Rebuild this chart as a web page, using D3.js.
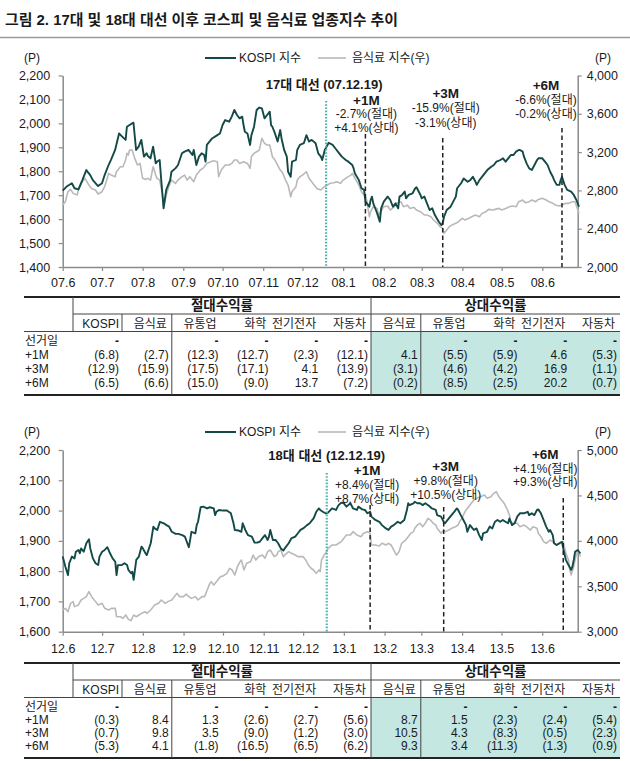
<!DOCTYPE html>
<html><head><meta charset="utf-8">
<script src="https://cdn.jsdelivr.net/npm/d3@7"></script>
<style>
body{margin:0;background:#fff;}
svg{display:block;font-family:"Liberation Sans","Noto Sans CJK KR",sans-serif;}
</style></head><body>
<svg id="c" width="630" height="761"></svg>
<script>
// ---------------- DATA ----------------
const titleText = "그림 2. 17대 및 18대 대선 이후 코스피 및 음식료 업종지수 추이";
const legendLabels = ["KOSPI 지수", "음식료 지수(우)"];

// chart 1 (2007.6 ~ 2008.6): [day offset from 2007-06-01, value]
const xLabels07 = ["07.6","07.7","07.8","07.9","07.10","07.11","07.12","08.1","08.2","08.3","08.4","08.5","08.6"];
const leftTicks07 = [1400,1500,1600,1700,1800,1900,2000,2100,2200];
const rightTicks07 = [2000,2400,2800,3200,3600,4000];
const kospi07 = [[0,1719],[3,1736],[7,1750],[9,1729],[12,1724],[15,1763],[18,1805],[21,1784],[23,1763],[27,1738],[30,1750],[32,1784],[35,1826],[37,1850],[40,1889],[43,1958],[45,1947],[48,1931],[49,1986],[51,1993],[54,2003],[56,1889],[58,1903],[60,1931],[62,1861],[64,1875],[65,1864],[67,1854],[69,1903],[71,1833],[72,1840],[74,1847],[75,1777],[77,1645],[79,1722],[82,1763],[83,1798],[86,1812],[88,1826],[91,1875],[93,1882],[96,1889],[99,1868],[100,1889],[102,1826],[104,1861],[106,1875],[108,1868],[109,1840],[110,1910],[114,1937],[118,1951],[120,1958],[122,1993],[124,2014],[127,2007],[129,2028],[131,2056],[133,2035],[135,2021],[137,2028],[138,1993],[139,1965],[141,1958],[143,1910],[144,1951],[146,1986],[148,2056],[150,2066],[152,2063],[154,2021],[156,2035],[158,2049],[159,1993],[160,1986],[162,1958],[164,1924],[166,1972],[167,1937],[169,1889],[171,1861],[172,1798],[174,1777],[175,1840],[178,1847],[179,1889],[181,1910],[184,1917],[186,1951],[188,1924],[190,1931],[193,1917],[195,1875],[197,1861],[198,1847],[199,1868],[200,1889],[203,1919],[206,1910],[208,1896],[211,1875],[213,1861],[216,1847],[218,1840],[221,1826],[222,1812],[223,1791],[226,1763],[228,1729],[230,1722],[231,1673],[234,1652],[235,1680],[236,1694],[237,1666],[239,1638],[240,1624],[242,1589],[243,1645],[245,1673],[248,1694],[250,1680],[252,1652],[254,1666],[256,1645],[257,1694],[259,1701],[261,1715],[262,1687],[264,1701],[267,1708],[269,1729],[270,1733],[273,1701],[274,1687],[276,1694],[278,1666],[280,1638],[282,1645],[284,1617],[287,1589],[289,1575],[290,1582],[291,1610],[293,1638],[296,1652],[298,1673],[300,1694],[301,1729],[304,1750],[306,1770],[309,1756],[311,1763],[313,1777],[315,1756],[316,1743],[318,1763],[321,1784],[324,1805],[327,1819],[329,1826],[331,1840],[334,1847],[336,1854],[338,1840],[340,1854],[342,1868],[344,1868],[346,1882],[348,1889],[349,1889],[351,1882],[352,1861],[354,1833],[356,1812],[358,1805],[360,1826],[362,1847],[363,1854],[366,1854],[368,1840],[370,1826],[372,1798],[374,1777],[375,1763],[377,1743],[379,1743],[380,1763],[381,1777],[383,1743],[385,1722],[388,1715],[390,1701],[392,1680],[394,1652]];
const food07 = [[0,2647],[2,2682],[4,2786],[6,2811],[8,2769],[11,2752],[12,2804],[15,2891],[17,2926],[20,2856],[22,2821],[25,2804],[27,2762],[30,2786],[32,2839],[34,2926],[35,2978],[37,2960],[40,2943],[41,2995],[44,3047],[46,3047],[48,3117],[49,3187],[50,3169],[51,3221],[53,3221],[55,3134],[57,3065],[59,3082],[61,2926],[63,2915],[65,2926],[67,2908],[69,3047],[71,2960],[72,2926],[74,2908],[76,2769],[77,2630],[79,2752],[81,2839],[83,2908],[86,2873],[88,2908],[91,2943],[93,2960],[95,2908],[97,2943],[100,2891],[102,2960],[105,3013],[107,3030],[110,3082],[113,3100],[115,3110],[118,3100],[119,2943],[121,3013],[124,3065],[127,3065],[129,3082],[131,3117],[133,3117],[135,3082],[138,3100],[141,3082],[143,3030],[144,3152],[146,3187],[148,3204],[150,3221],[152,3343],[154,3291],[156,3274],[158,3274],[160,3152],[162,3117],[164,3065],[166,3013],[168,2978],[170,2908],[172,2856],[174,2734],[175,2786],[178,2839],[179,2908],[181,2943],[183,2960],[186,2995],[188,2926],[191,2873],[194,2821],[197,2804],[199,2832],[202,2856],[204,2874],[207,2880],[209,2891],[212,2874],[214,2908],[217,2936],[220,2960],[221,2978],[223,2926],[226,2856],[228,2786],[231,2734],[232,2700],[234,2525],[235,2578],[237,2630],[240,2612],[241,2543],[242,2560],[245,2630],[248,2637],[250,2595],[253,2630],[255,2665],[258,2682],[260,2630],[262,2637],[263,2647],[265,2612],[268,2623],[270,2595],[273,2578],[276,2543],[278,2543],[281,2525],[283,2491],[286,2456],[288,2421],[290,2404],[291,2352],[293,2386],[295,2421],[297,2438],[300,2456],[302,2473],[305,2508],[307,2491],[310,2508],[312,2525],[315,2543],[318,2525],[320,2560],[323,2578],[325,2602],[328,2595],[330,2602],[333,2612],[335,2595],[338,2612],[341,2630],[343,2637],[346,2630],[348,2682],[351,2700],[353,2672],[356,2682],[358,2700],[361,2682],[363,2706],[366,2717],[369,2700],[371,2682],[374,2665],[376,2647],[379,2637],[381,2647],[384,2665],[386,2665],[389,2682],[391,2682],[394,2560]];

// chart 2 (2012.6 ~ 2013.6): [day offset from 2012-06-01, value]
const xLabels12 = ["12.6","12.7","12.8","12.9","12.10","12.11","12.12","13.1","13.2","13.3","13.4","13.5","13.6"];
const leftTicks12 = [1600,1700,1800,1900,2000,2100,2200];
const rightTicks12 = [3000,3500,4000,4500,5000];
const kospi12 = [[0,1848],[2,1815],[4,1787],[5,1826],[7,1848],[9,1842],[10,1864],[12,1870],[13,1859],[14,1875],[16,1864],[18,1892],[20,1905],[21,1875],[23,1842],[25,1826],[27,1820],[28,1848],[30,1864],[32,1870],[34,1879],[36,1859],[38,1842],[40,1831],[41,1787],[42,1820],[45,1820],[47,1826],[49,1820],[50,1804],[52,1793],[53,1798],[54,1771],[56,1837],[58,1848],[60,1881],[61,1875],[63,1859],[64,1853],[67,1892],[68,1919],[69,1947],[70,1941],[72,1936],[74,1963],[77,1958],[79,1952],[81,1947],[83,1930],[86,1923],[88,1923],[91,1919],[93,1914],[96,1879],[97,1903],[98,1930],[101,1925],[102,1952],[103,1963],[105,2011],[107,2013],[110,2007],[112,2011],[115,2007],[116,1985],[117,1996],[119,2002],[122,2000],[125,2000],[128,1991],[130,1958],[131,1936],[134,1934],[136,1930],[137,1958],[139,1936],[141,1919],[144,1914],[146,1894],[148,1894],[150,1897],[153,1914],[154,1919],[156,1903],[157,1914],[158,1936],[160,1903],[162,1903],[164,1892],[166,1875],[168,1868],[169,1875],[172,1892],[174,1908],[177,1914],[179,1925],[181,1936],[183,1941],[186,1952],[188,1958],[190,1969],[191,1974],[193,1996],[195,2007],[196,2002],[198,1996],[200,1991],[202,1993],[205,2007],[208,2002],[210,2018],[212,2026],[214,2024],[216,2013],[219,2024],[221,2007],[224,2002],[225,2013],[228,2004],[230,2002],[232,1991],[234,1996],[235,1980],[238,1969],[241,1963],[243,1952],[246,1941],[248,1936],[250,1947],[252,1952],[255,1963],[257,1958],[260,1969],[262,2002],[263,2024],[264,2018],[267,2024],[268,2029],[270,2024],[272,2024],[274,2018],[276,2024],[279,2015],[281,2007],[284,2002],[285,1985],[288,1980],[290,1963],[291,1958],[293,1969],[295,1980],[298,1996],[300,2007],[301,2002],[303,1985],[305,1969],[307,1952],[308,1930],[310,1952],[312,1941],[313,1936],[315,1941],[317,1919],[319,1903],[320,1925],[323,1930],[325,1947],[327,1941],[329,1963],[331,1969],[333,1963],[335,1969],[337,1963],[339,1958],[340,1974],[342,1952],[344,1958],[346,1980],[348,1991],[351,1991],[354,1996],[355,1985],[357,1991],[359,1985],[361,2002],[362,2004],[364,1991],[366,1969],[368,1947],[370,1930],[371,1936],[373,1919],[374,1892],[376,1886],[378,1892],[380,1897],[381,1875],[383,1837],[385,1820],[387,1804],[388,1815],[389,1837],[390,1864],[392,1870],[393,1864],[394,1859]];
const food12 = [[0,3239],[2,3257],[4,3220],[6,3312],[8,3331],[9,3276],[12,3294],[14,3349],[16,3367],[18,3386],[20,3441],[22,3386],[25,3331],[27,3294],[30,3312],[32,3257],[35,3239],[37,3257],[40,3257],[41,3165],[44,3165],[46,3147],[48,3184],[50,3136],[52,3122],[54,3184],[56,3165],[58,3184],[60,3202],[63,3220],[64,3202],[67,3239],[69,3276],[70,3294],[73,3312],[75,3349],[78,3312],[80,3331],[83,3349],[86,3404],[87,3422],[89,3386],[92,3386],[94,3415],[96,3386],[98,3367],[101,3386],[103,3349],[106,3386],[108,3386],[110,3459],[112,3532],[113,3551],[115,3514],[117,3551],[120,3606],[122,3613],[125,3642],[127,3697],[129,3679],[131,3624],[133,3716],[135,3771],[136,3789],[138,3679],[140,3753],[143,3771],[145,3844],[147,3789],[149,3826],[152,3844],[154,3808],[156,3881],[158,3899],[161,3826],[163,3844],[164,3881],[166,3899],[168,3826],[169,3844],[172,3881],[174,3863],[177,3844],[179,3826],[181,3826],[183,3826],[185,3789],[187,3734],[189,3698],[191,3679],[193,3642],[195,3679],[196,3661],[197,3789],[199,3844],[201,3881],[202,3918],[205,3954],[208,3954],[210,3973],[212,3991],[214,4028],[216,4064],[219,4064],[221,4101],[224,4064],[227,4046],[229,4083],[232,4101],[234,4083],[235,3954],[238,3954],[241,3943],[243,3973],[246,3954],[248,3973],[250,3954],[252,3899],[254,3844],[256,3881],[258,3973],[261,4009],[263,4046],[265,4083],[267,4101],[268,4138],[270,4174],[272,4193],[274,4156],[276,4193],[278,4248],[280,4229],[282,4193],[284,4174],[285,4138],[288,4083],[290,4119],[291,4101],[294,4119],[296,4138],[299,4156],[301,4174],[302,4211],[304,4248],[305,4285],[307,4340],[309,4376],[311,4413],[313,4450],[315,4468],[318,4486],[321,4505],[323,4468],[326,4486],[328,4523],[330,4541],[332,4486],[334,4450],[336,4413],[338,4358],[340,4285],[341,4211],[343,4193],[346,4193],[348,4156],[351,4174],[353,4156],[356,4119],[358,4156],[361,4138],[362,4083],[364,4046],[366,3991],[368,3973],[371,4009],[373,3991],[374,3973],[376,3954],[379,3973],[381,3991],[383,3863],[385,3789],[386,3679],[387,3624],[389,3716],[390,3789],[391,3863],[393,3881],[394,3826]];

// event markers: dates and annotation texts
const events07 = ["2007-12-19","2008-01-18","2008-03-17","2008-06-16"];
const eventTitle07 = "17대 대선 (07.12.19)";
const eventText07 = [["+1M","-2.7%(절대)","+4.1%(상대)"],["+3M","-15.9%(절대)","-3.1%(상대)"],["+6M","-6.6%(절대)","-0.2%(상대)"]];
const events12 = ["2012-12-19","2013-01-21","2013-03-18","2013-06-17"];
const eventTitle12 = "18대 대선 (12.12.19)";
const eventText12 = [["+1M","+8.4%(절대)","+8.7%(상대)"],["+3M","+9.8%(절대)","+10.5%(상대)"],["+6M","+4.1%(절대)","+9.3%(상대)"]];

// tables
const groupLabels = ["절대수익률","상대수익률"];
const tableCols = ["KOSPI","음식료","유통업","화학","전기전자","자동차","음식료","유통업","화학","전기전자","자동차"];
const rowLabels = ["선거일","+1M","+3M","+6M"];
const electionRow = ["-","","-","-","-","-","","-","-","-","-"];
const ret07_1M = [-6.8,-2.7,-12.3,-12.7,-2.3,-12.1,4.1,-5.5,-5.9,4.6,-5.3];
const ret07_3M = [-12.9,-15.9,-17.5,-17.1,4.1,-13.9,-3.1,-4.6,-4.2,16.9,-1.1];
const ret07_6M = [-6.5,-6.6,-15.0,-9.0,13.7,-7.2,-0.2,-8.5,-2.5,20.2,-0.7];
const ret12_1M = [-0.3,8.4,1.3,-2.6,-2.7,-5.6,8.7,1.5,-2.3,-2.4,-5.4];
const ret12_3M = [-0.7,9.8,3.5,-9.0,-1.2,-3.0,10.5,4.3,-8.3,-0.5,-2.3];
const ret12_6M = [-5.3,4.1,-1.8,-16.5,-6.5,-6.2,9.3,3.4,-11.3,-1.3,-0.9];

// ---------------- DRAW ----------------
const svg = d3.select("#c");
const FONT = '"Liberation Sans","Noto Sans CJK KR",sans-serif';
const TXT = "#1a1a1a";
const KCOL = "#134a47", FCOL = "#b9b9b9", AXC = "#8a8a8a";

svg.append("text").attr("x",5).attr("y",19).attr("dominant-baseline","central")
  .attr("font-size",15).attr("font-weight",700).attr("fill",TXT)
  .attr("textLength",393).attr("lengthAdjust","spacingAndGlyphs").text(titleText);
svg.append("line").attr("x1",0).attr("x2",630).attr("y1",37.5).attr("y2",37.5)
  .attr("stroke","#9a9a9a").attr("stroke-width",1.5);

const parse = d3.timeParse("%Y-%m-%d");

function drawChart(c){
  const g = svg.append("g");
  const x0 = 62.7, x1 = 577.7;
  const start = parse(c.start), end = parse(c.end);
  const x = d3.scaleTime().domain([start,end]).range([x0,x1]);
  const yL = d3.scaleLinear().domain(c.yL).range([c.bottom,c.top]);
  const yR = d3.scaleLinear().domain(c.yR).range([c.bottom,c.top]);
  const dt = d => d3.timeDay.offset(start, d);

  const styleAxis = (sel) => {
    sel.attr("font-family",FONT).attr("font-size",12.5);
    sel.selectAll("path.domain").attr("stroke",AXC).attr("stroke-width",1.5);
    sel.selectAll(".tick line").attr("stroke",AXC).attr("stroke-width",1.2);
    sel.selectAll(".tick text").attr("fill",TXT);
  };
  g.append("g").attr("transform",`translate(${x0},0)`)
    .call(d3.axisLeft(yL).tickValues(c.leftTicks).tickFormat(d3.format(",")).tickSize(4).tickSizeOuter(0).tickPadding(8.5))
    .call(styleAxis);
  g.append("g").attr("transform",`translate(${x1},0)`)
    .call(d3.axisRight(yR).tickValues(c.rightTicks).tickFormat(d3.format(",")).tickSize(4).tickSizeOuter(0).tickPadding(5))
    .call(styleAxis);
  const months = d3.timeMonth.range(start, end);
  g.append("g").attr("transform",`translate(0,${c.bottom})`)
    .call(d3.axisBottom(x).tickValues(months).tickFormat((d,i)=>c.xLabels[i]).tickSize(4).tickSizeOuter(0).tickPadding(c.xPad))
    .call(styleAxis);

  // lines
  g.append("path").datum(c.food).attr("fill","none").attr("stroke",FCOL).attr("stroke-width",1.6)
    .attr("stroke-linejoin","round")
    .attr("d", d3.line().x(d=>x(dt(d[0]))).y(d=>yR(d[1])));
  g.append("path").datum(c.kospi).attr("fill","none").attr("stroke",KCOL).attr("stroke-width",1.9)
    .attr("stroke-linejoin","round")
    .attr("d", d3.line().x(d=>x(dt(d[0]))).y(d=>yL(d[1])));

  // event markers
  const ex = c.events.map(s => x(parse(s)));
  g.append("line").attr("x1",ex[0]).attr("x2",ex[0]).attr("y1",c.markTop[0]).attr("y2",c.bottom)
    .attr("stroke","#4fb3b0").attr("stroke-width",2.2).attr("stroke-dasharray","1.6,1.6");
  for(let i=1;i<4;i++){
    g.append("line").attr("x1",ex[i]).attr("x2",ex[i]).attr("y1",c.markTop[i]).attr("y2",c.bottom)
      .attr("stroke","#222").attr("stroke-width",1.5).attr("stroke-dasharray","4.5,3");
  }
  g.append("text").attr("x",ex[0]+c.titleDx).attr("y",c.titleY).attr("text-anchor","middle")
    .attr("dominant-baseline","central").attr("font-size",13).attr("font-weight",700).attr("fill",TXT)
    .text(c.eventTitle);
  c.eventText.forEach((lines,i)=>{
    const cx = ex[i+1] + c.textDx[i];
    lines.forEach((t,j)=>{
      g.append("text").attr("x",cx).attr("y",c.textY[i][j]).attr("text-anchor","middle")
        .attr("dominant-baseline","central")
        .attr("font-size", j===0?13.5:12).attr("font-weight", j===0?700:400).attr("fill",TXT).text(t);
    });
  });

  // legend & units
  const ly = c.legendY;
  g.append("text").attr("x",32).attr("y",ly).attr("text-anchor","middle").attr("dominant-baseline","central")
    .attr("font-size",12).attr("fill",TXT).text("(P)");
  g.append("text").attr("x",603).attr("y",ly).attr("text-anchor","middle").attr("dominant-baseline","central")
    .attr("font-size",12).attr("fill",TXT).text("(P)");
  g.append("line").attr("x1",205).attr("x2",236).attr("y1",ly).attr("y2",ly).attr("stroke",KCOL).attr("stroke-width",2);
  g.append("text").attr("x",239).attr("y",ly).attr("dominant-baseline","central").attr("font-size",12).attr("fill",TXT).text(legendLabels[0]);
  g.append("line").attr("x1",318).attr("x2",346).attr("y1",ly).attr("y2",ly).attr("stroke",FCOL).attr("stroke-width",1.6);
  g.append("text").attr("x",352).attr("y",ly).attr("dominant-baseline","central").attr("font-size",12).attr("fill",TXT).text(legendLabels[1]);
}

drawChart({
  start:"2007-06-01", end:"2008-06-28", top:75.5, bottom:267, xPad:7,
  yL:[1400,2200], yR:[2000,4000], leftTicks:leftTicks07, rightTicks:rightTicks07, xLabels:xLabels07,
  kospi:kospi07, food:food07, events:events07, eventTitle:eventTitle07, eventText:eventText07,
  markTop:[101,134,138,128], titleDx:-2, titleY:84, textDx:[1,3,-16],
  textY:[[100,113.5,127.5],[93.3,108.3,122.7],[85,100,113.5]], legendY:58
});
drawChart({
  start:"2012-06-01", end:"2013-06-28", top:450, bottom:631.7, xPad:8,
  yL:[1600,2200], yR:[3000,5000], leftTicks:leftTicks12, rightTicks:rightTicks12, xLabels:xLabels12,
  kospi:kospi12, food:food12, events:events12, eventTitle:eventTitle12, eventText:eventText12,
  markTop:[473,505,507,498], titleDx:0, titleY:455, textDx:[-3,2,-18],
  textY:[[470,485,498.5],[466.7,481,495],[454,469,482]], legendY:432
});

function fmt(v){ return v<0 ? "(" + Math.abs(v).toFixed(1) + ")" : v.toFixed(1); }

function drawTable(T, B, rows){
  const g = svg.append("g");
  const L = 24, R = 620, c0 = 73, gDiv = 371;
  const colR = i => 119 + i*49.8;
  const hLine = T+17, hdrY = T+26.5, hdrLine = T+34.5;
  const rowY = i => T + 44 + i*((B - 12.5 - (T+44))/3);
  // shade
  g.append("rect").attr("x",gDiv).attr("y",hdrLine).attr("width",R-gDiv).attr("height",B-hdrLine).attr("fill","#c4e7e2");
  const line = (x1,y1,x2,y2,w,col)=>g.append("line").attr("x1",x1).attr("y1",y1).attr("x2",x2).attr("y2",y2)
      .attr("stroke",col||"#333").attr("stroke-width",w);
  line(L,T,R,T,2,"#222");
  line(c0,hLine,R,hLine,1,"#444");
  line(L,hdrLine,R,hdrLine,1,"#444");
  line(L,B,R,B,2,"#222");
  line(c0,T,c0,hdrLine,1,"#444");
  line(gDiv,T,gDiv,B,1,"#444");
  line(colR(0)+3,hLine,colR(0)+3,hdrLine,1,"#444");
  line(colR(1)+3,hLine,colR(1)+3,B,1,"#444");
  line(colR(6)+3,hLine,colR(6)+3,B,1,"#444");
  // group labels
  g.append("text").attr("x",(c0+gDiv)/2).attr("y",T+8.5).attr("text-anchor","middle").attr("dominant-baseline","central")
    .attr("font-size",13.5).attr("font-weight",700).attr("fill",TXT).text(groupLabels[0]);
  g.append("text").attr("x",(gDiv+R)/2).attr("y",T+8.5).attr("text-anchor","middle").attr("dominant-baseline","central")
    .attr("font-size",13.5).attr("font-weight",700).attr("fill",TXT).text(groupLabels[1]);
  tableCols.forEach((t,i)=>{
    g.append("text").attr("x",colR(i)-(i===0?0:2)).attr("y",hdrY).attr("text-anchor","end").attr("dominant-baseline","central")
      .attr("font-size",12).attr("fill",TXT).text(t);
  });
  rowLabels.forEach((t,r)=>{
    g.append("text").attr("x",L+1).attr("y",rowY(r)).attr("dominant-baseline","central")
      .attr("font-size",12).attr("fill",TXT).text(t);
    const vals = rows[r];
    vals.forEach((v,i)=>{
      const s = typeof v === "string" ? v : fmt(v);
      if(!s) return;
      g.append("text").attr("x",colR(i)).attr("y",rowY(r)).attr("text-anchor","end").attr("dominant-baseline","central")
        .attr("font-size",12).attr("font-weight", s==="-"?700:400).attr("fill",TXT).text(s);
    });
  });
}
drawTable(297, 395, [electionRow, ret07_1M, ret07_3M, ret07_6M]);
drawTable(663, 758, [electionRow, ret12_1M, ret12_3M, ret12_6M]);
</script></body></html>
